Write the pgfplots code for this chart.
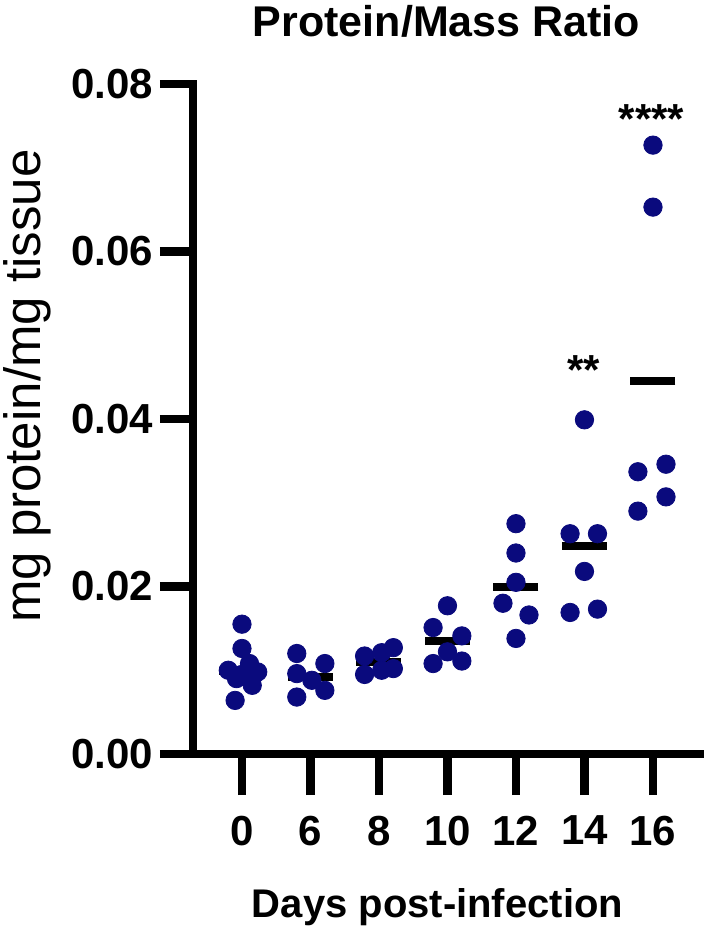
\documentclass[border=0pt]{standalone}
\usepackage{pgfplots}
\pgfplotsset{compat=1.18}
\usepackage{fontspec}
\setmainfont{Liberation Sans}
\definecolor{dotnavy}{RGB}{10,10,125}

\begin{document}
\begin{tikzpicture}
\path[use as bounding box] (-96.5pt,-89pt) rectangle (255.5pt,377pt);
\begin{axis}[
  width=255.5pt, height=335pt, scale only axis,
  xmin=-0.715, xmax=6.745, ymin=0, ymax=0.08,
  clip=false,
  scaled y ticks=false,
  axis lines=left,
  axis line style={-, line width=4.25pt, line cap=rect},
  tick align=outside,
  major tick length=16.5pt,
  tick style={line width=4.25pt, black},
  xtick style={/pgfplots/major tick length=20.5pt},
  xtick={0,...,6},
  xticklabels={0,6,8,10,12,14,16},
  ytick={0,0.02,0.04,0.06,0.08},
  yticklabels={0.00,0.02,0.04,0.06,0.08},
  tick label style={font=\bfseries\fontsize{21}{25}\selectfont},
  xticklabel style={yshift=-11pt},
  title={Protein/Mass Ratio},
  title style={at={(axis description cs:0.496,1.0536)}, anchor=base, font=\bfseries\fontsize{21.5}{26}\selectfont},
  xlabel={Days post-infection},
  xlabel style={at={(axis description cs:0.4785,-0.2433)}, anchor=base, font=\bfseries\fontsize{20}{24}\selectfont},
  ylabel={mg protein/mg tissue},
  ylabel style={at={(axis description cs:-0.325,0.549)}, anchor=center, rotate=0, font=\fontsize{25.5}{30}\selectfont},
]
% group means
\addplot[only marks, mark=-, mark size=11.25pt, mark options={line width=4pt, black}] coordinates {
  (0,0.0099) (1,0.0092) (2,0.0110) (3,0.0135) (4,0.0200) (5,0.0248) (6,0.0445)
};
% individual animals
\addplot[only marks, mark=*, mark size=4.6pt, color=dotnavy] coordinates {
  (0.00,0.0155) (0.00,0.0126) (0.11,0.0108) (-0.20,0.0100) (0.23,0.0098)
  (0.00,0.0095) (-0.08,0.0090) (0.15,0.0082) (-0.10,0.0064)
  (0.80,0.0120) (1.21,0.0108) (0.80,0.0096) (1.02,0.0088) (1.21,0.0076) (0.80,0.0068)
  (1.79,0.0117) (1.79,0.0095) (2.04,0.0121) (2.21,0.0127) (2.04,0.0100) (2.21,0.0102)
  (3.00,0.0177) (2.79,0.0151) (3.21,0.0141) (3.00,0.0122) (2.79,0.0108) (3.21,0.0111)
  (4.00,0.0275) (4.00,0.0240) (4.00,0.0205) (3.81,0.0180) (4.19,0.0166) (4.00,0.0138)
  (5.00,0.0399) (4.79,0.0263) (5.19,0.0263) (5.00,0.0218) (4.79,0.0169) (5.19,0.0173)
  (6.00,0.0727) (6.00,0.0653) (5.78,0.0337) (6.19,0.0346) (6.19,0.0307) (5.78,0.0290)
};
\node[anchor=base, font=\bfseries\fontsize{21}{25}\selectfont] at (axis cs:5.98,0.0741) {****};
\node[anchor=base, font=\bfseries\fontsize{21}{25}\selectfont] at (axis cs:4.99,0.0441) {**};
\end{axis}
\end{tikzpicture}
\end{document}
